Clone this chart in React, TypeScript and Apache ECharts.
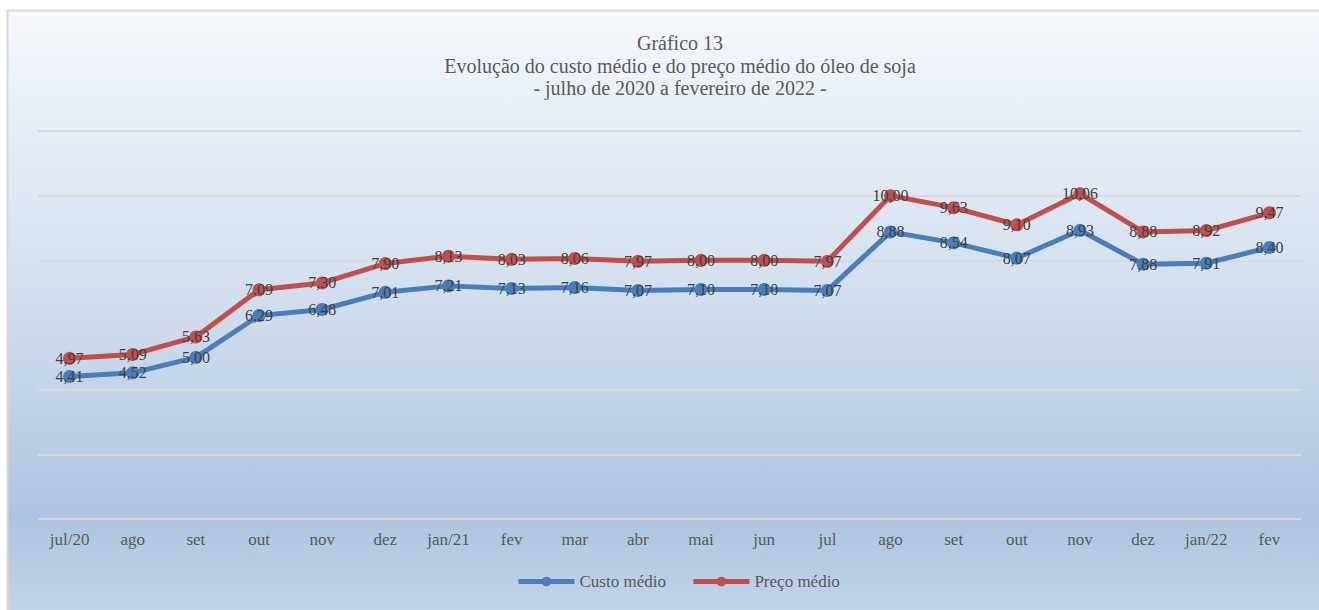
import React, { useEffect, useRef } from "react";
import * as echarts from "echarts";

const categories = ["jul/20", "ago", "set", "out", "nov", "dez", "jan/21", "fev", "mar", "abr", "mai", "jun", "jul", "ago", "set", "out", "nov", "dez", "jan/22", "fev"];
const custoMedio = [4.41, 4.52, 5.0, 6.29, 6.48, 7.01, 7.21, 7.13, 7.16, 7.07, 7.1, 7.1, 7.07, 8.88, 8.54, 8.07, 8.93, 7.88, 7.91, 8.4];
const precoMedio = [4.97, 5.09, 5.63, 7.09, 7.3, 7.9, 8.13, 8.03, 8.06, 7.97, 8.0, 8.0, 7.97, 10.0, 9.63, 9.1, 10.06, 8.88, 8.92, 9.47];

const FONT = "Liberation Serif";
const fmt = (p: any) => Number(p.value).toFixed(2).replace(".", ",");

export default function App() {
  const ref = useRef<HTMLDivElement>(null);
  useEffect(() => {
    if (!ref.current) return;
    const chart = echarts.init(ref.current, null, { renderer: "svg" });
    const mkSeries = (name: string, data: number[], color: string) => ({
      name,
      type: "line",
      data,
      symbol: "circle",
      symbolSize: 13,
      lineStyle: { width: 5, color },
      itemStyle: { color },
      z: name === "Preço médio" ? 3 : 2,
      label: {
        show: true,
        position: "inside",
        formatter: fmt,
        fontFamily: FONT,
        fontSize: 16,
        color: "#404040",
      },
    });
    chart.setOption({
      animation: false,
      backgroundColor: "#ffffff",
      graphic: [
        {
          type: "rect",
          z: -10,
          silent: true,
          shape: { x: 7.5, y: 10.5, width: 1320, height: 620 },
          style: {
            fill: new echarts.graphic.LinearGradient(0, 0, 0, 1, [
              { offset: 0, color: "#f5f8fc" },
              { offset: 0.45, color: "#d3dfee" },
              { offset: 0.82, color: "#aec4e0" },
              { offset: 1, color: "#c6d6ea" },
            ]),
            stroke: "#d9d9d9",
            lineWidth: 2,
          },
        },
      ],
      title: {
        text: "Gráfico 13\nEvolução do custo médio e do preço médio do óleo de soja\n- julho de 2020 a fevereiro de 2022 -",
        left: 675,
        textAlign: "center",
        top: 27,
        textStyle: {
          fontFamily: FONT,
          fontSize: 20,
          fontWeight: "normal",
          color: "#595959",
          lineHeight: 22.5,
        },
      },
      legend: {
        top: 568,
        left: 511,
        itemWidth: 56,
        itemHeight: 12,
        itemGap: 25,
        lineStyle: { width: 5 },
        textStyle: { fontFamily: FONT, fontSize: 17, color: "#595959" },
        data: ["Custo médio", "Preço médio"],
      },
      grid: { left: 38, right: 18, top: 131, bottom: 91, containLabel: false },
      xAxis: {
        type: "category",
        data: categories,
        boundaryGap: true,
        axisLine: { show: false },
        axisTick: { show: false },
        axisLabel: { fontFamily: FONT, fontSize: 17, color: "#595959", margin: 12 },
      },
      yAxis: {
        type: "value",
        min: 0,
        max: 12,
        interval: 2,
        axisLabel: { show: false },
        axisLine: { show: false },
        axisTick: { show: false },
        splitLine: { lineStyle: { color: "#d9d9d9", width: 2 } },
      },
      series: [mkSeries("Custo médio", custoMedio, "#4a7ebb"), mkSeries("Preço médio", precoMedio, "#c0504d")],
    });
    return () => chart.dispose();
  }, []);
  return <div ref={ref} style={{ position: "fixed", left: 0, top: 0, width: 1319, height: 610 }} />;
}
